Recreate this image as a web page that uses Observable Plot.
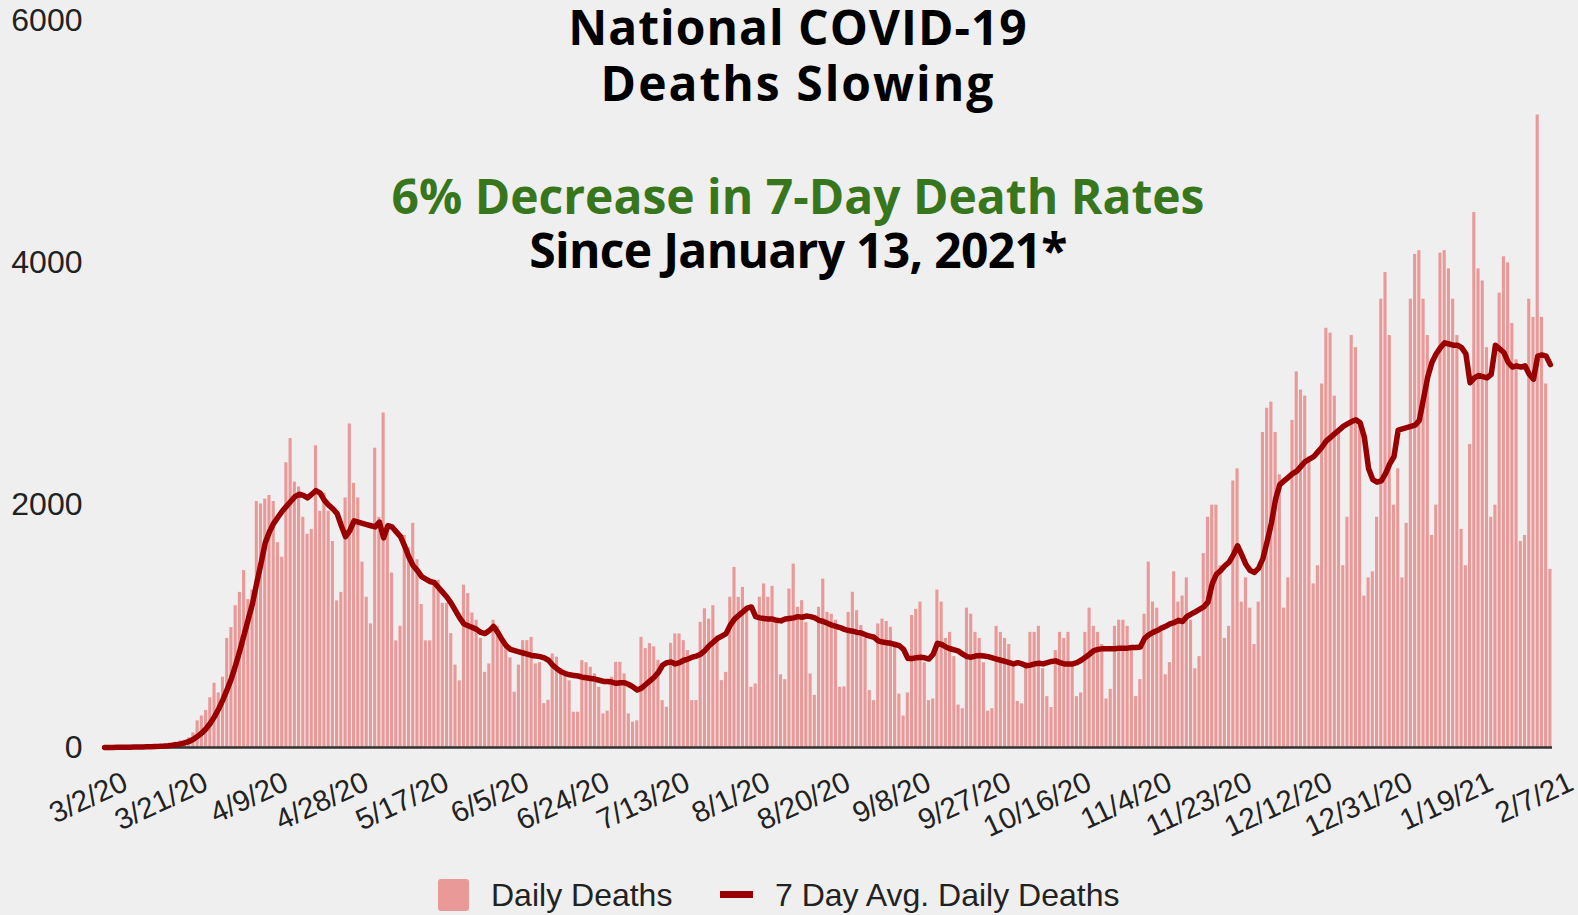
<!DOCTYPE html>
<html>
<head>
<meta charset="utf-8">
<script src="https://cdn.jsdelivr.net/npm/d3@7"></script>
<script src="https://cdn.jsdelivr.net/npm/@observablehq/plot@0.6"></script>
<style>
  html, body { margin: 0; padding: 0; background: #efefef; }
  body { width: 1578px; height: 915px; position: relative; overflow: hidden; font-family: "Liberation Sans", Arial, sans-serif; }
  #chart { position: absolute; left: 0; top: 0; }
  .title { position: absolute; left: 798px; transform: translateX(-50%); white-space: nowrap;
           font-family: "Open Sans", sans-serif; font-weight: 700; font-size: 48px; line-height: 1; color: #000; }
  .leg-text { position: absolute; font-family: "Liberation Sans", Arial, sans-serif; font-size: 32px; line-height: 1; color: #222; white-space: nowrap; }
</style>
</head>
<body>
<div id="chart"></div>
<div class="title" style="top:3px;letter-spacing:1px">National COVID-19</div>
<div class="title" style="top:59px;letter-spacing:2px">Deaths Slowing</div>
<div class="title" style="top:172px;color:#38761d">6% Decrease in 7-Day Death Rates</div>
<div class="title" style="top:226px;letter-spacing:-0.7px">Since January 13, 2021*</div>
<div style="position:absolute;left:438px;top:879px;width:31px;height:32px;background:#ea9999;border-radius:3px"></div>
<div class="leg-text" style="left:491px;top:879px">Daily Deaths</div>
<div style="position:absolute;left:720px;top:891px;width:33px;height:7px;background:#990000"></div>
<div class="leg-text" style="left:775px;top:879px">7 Day Avg. Daily Deaths</div>
<script>
// First day of the series (3/2/20); one value per day through 2/7/21
const startDay = "2020-03-02";

// Daily deaths (Mon..Sun per row)
const dailyDeaths = [
  1,1,3,1,3,2,3,
  4,5,8,9,11,10,12,
  18,23,28,40,55,60,80,
  120,220,260,305,410,530,450,
  580,900,990,1170,1280,1460,1220,
  1300,2030,2010,2050,2080,2030,1690,
  1570,2350,2550,2190,2150,1900,1760,
  1800,2490,1950,2100,1950,1700,1210,
  1280,2060,2670,2180,2060,1530,1240,
  1020,2470,1900,2760,1820,1440,880,
  1000,1750,1650,1850,1550,1180,880,
  880,1380,1380,1190,1190,940,680,
  550,1340,1270,1110,1050,900,620,
  690,1050,1000,910,860,740,456,
  680,882,882,909,690,700,362,
  390,772,745,651,610,550,291,
  291,717,700,662,607,497,277,
  300,580,703,703,607,277,209,
  220,909,816,857,830,720,387,
  332,860,937,937,882,800,387,
  387,1033,1145,1060,1170,920,552,
  620,1240,1486,1239,1321,1129,497,
  525,1240,1350,1240,1330,1050,600,
  560,1308,1514,1157,1212,1030,607,
  430,1157,1390,1115,1100,1050,497,
  500,1115,1281,1129,1006,900,470,
  387,1020,1060,1040,992,855,441,
  260,450,1090,1140,1200,700,387,
  400,1300,1200,900,950,750,350,
  320,1150,1100,950,900,700,300,
  320,1000,950,900,850,700,380,
  360,700,950,950,1000,650,420,
  330,800,950,900,950,700,420,
  450,950,1150,1000,950,850,400,
  480,1000,1050,1050,1000,830,420,
  560,1100,1530,1200,1150,1000,600,
  700,1450,1200,1250,1400,1050,650,
  750,1600,1900,2000,2000,1500,900,
  1000,2200,2300,1200,1400,1150,850,
  1200,2600,2800,2850,2600,2250,1150,
  1400,2700,3100,2950,2900,2400,1350,
  1500,3000,3460,3420,2900,2600,1500,
  1900,3400,3300,2700,1250,1400,1450,
  1900,3700,3920,3400,2000,2300,1400,
  1850,3700,4070,4100,3700,3400,1750,
  2000,4080,4100,3950,3700,3400,1800,
  1500,2500,4415,3950,3850,3300,1900,
  2000,3750,4050,4000,3500,3200,1700,
  1750,3700,3550,5220,3550,3000,1470
];

// 7-day average daily deaths
const avgDeaths = [
  1,1,1,2,2,3,3,4,4,5,
  6,7,9,10,12,15,19,24,30,38,
  50,68,92,120,155,200,255,320,395,480,
  570,680,800,930,1060,1190,1360,1520,1690,1780,
  1850,1900,1950,1990,2030,2070,2090,2080,2060,2090,
  2120,2100,2040,2000,1970,1930,1830,1740,1790,1870,
  1860,1850,1840,1830,1820,1860,1730,1830,1820,1780,
  1740,1660,1570,1500,1460,1410,1390,1370,1360,1320,
  1280,1240,1190,1130,1070,1020,1005,990,975,950,
  940,965,1000,950,890,840,810,800,790,780,
  770,760,755,750,740,720,680,650,625,610,
  600,595,590,580,575,570,565,555,545,545,
  540,530,535,535,520,500,475,490,520,550,
  580,620,680,700,705,690,700,720,730,745,
  755,770,800,840,870,900,920,940,1010,1060,
  1090,1120,1150,1160,1080,1070,1065,1060,1060,1050,
  1045,1060,1065,1070,1080,1075,1085,1080,1070,1050,
  1040,1025,1010,1000,990,975,965,960,950,945,
  930,920,910,880,870,865,860,850,840,810,
  735,735,740,745,740,730,770,860,850,830,
  815,805,795,770,750,745,755,760,755,750,
  740,730,720,710,700,690,700,690,675,680,
  690,695,690,700,710,715,700,690,690,690,
  700,720,745,770,800,810,815,815,815,815,
  820,820,820,825,825,830,900,930,950,965,
  985,1000,1020,1030,1050,1040,1080,1100,1120,1140,
  1160,1200,1350,1430,1460,1500,1530,1590,1665,1590,
  1510,1460,1445,1480,1560,1700,1850,2050,2170,2200,
  2230,2260,2280,2320,2360,2380,2400,2440,2480,2530,
  2560,2590,2620,2650,2670,2690,2705,2680,2560,2300,
  2210,2190,2200,2260,2340,2400,2620,2630,2640,2650,
  2660,2700,2880,3060,3180,3250,3300,3340,3330,3320,
  3320,3300,3250,3010,3050,3070,3060,3050,3080,3320,
  3290,3260,3180,3140,3150,3140,3150,3080,3040,3230,
  3240,3230,3160
];

// Axis ticks
const yTicks = [0, 2000, 4000, 6000];
const xTickLabels = ["3/2/20","3/21/20","4/9/20","4/28/20","5/17/20","6/5/20","6/24/20","7/13/20","8/1/20",
  "8/20/20","9/8/20","9/27/20","10/16/20","11/4/20","11/23/20","12/12/20","12/31/20","1/19/21","2/7/21"];

const start = new Date(startDay + "T00:00:00Z");
const rows = dailyDeaths.map((v, i) => {
  const d = d3.utcDay.offset(start, i);
  return { date: d, next: d3.utcDay.offset(d, 1), mid: d3.utcHour.offset(d, 12), daily: v, avg: avgDeaths[i] };
});
const tickDates = xTickLabels.map(s => {
  const [m, d, y] = s.split("/").map(Number);
  return new Date(Date.UTC(2000 + y, m - 1, d, 12));
});
const fmt = d3.utcFormat("%-m/%-d/%y");

const chart = Plot.plot({
  width: 1578,
  height: 868,
  marginLeft: 102,
  marginRight: 26,
  marginTop: 20,
  marginBottom: 121,
  style: { background: "#efefef", fontFamily: "'Liberation Sans', Arial, sans-serif", color: "#222" },
  x: { type: "utc", domain: [start, d3.utcDay.offset(start, dailyDeaths.length)] },
  y: { domain: [0, 6000] },
  marks: [
    Plot.rectY(rows, { x1: "date", x2: "next", y: "daily", fill: "#ea9999", insetLeft: 0.55, insetRight: 0.55 }),
    Plot.ruleY([0], { stroke: "#333", strokeWidth: 2.5 }),
    Plot.lineY(rows, { x: "mid", y: "avg", stroke: "#990000", strokeWidth: 5.5, strokeLinejoin: "round", strokeLinecap: "round" }),
    Plot.axisY({ ticks: yTicks, tickSize: 0, tickPadding: 20, fontSize: 32, tickFormat: d => String(d) }),
    Plot.axisX({ ticks: tickDates, tickFormat: fmt, tickRotate: -25, tickSize: 0, tickPadding: 33, dx: 21, fontSize: 29.5 })
  ]
});
document.getElementById("chart").appendChild(chart);
</script>
</body>
</html>
